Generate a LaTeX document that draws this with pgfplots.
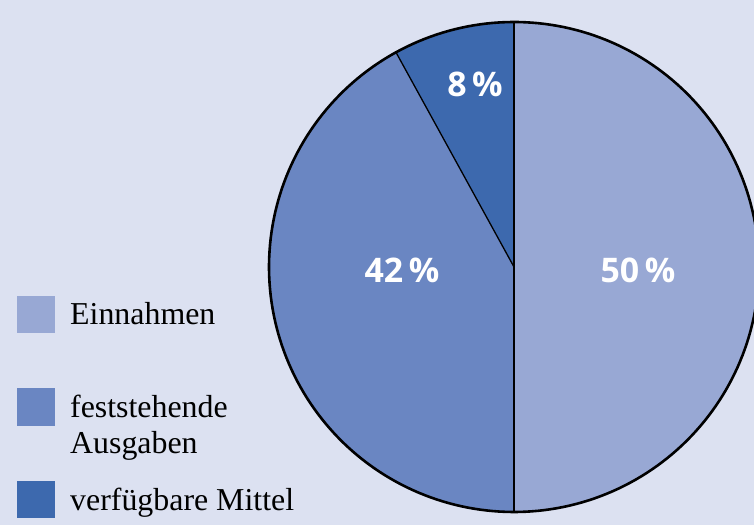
\documentclass[border=0pt]{standalone}
\usepackage{fontspec}
\setmainfont{Liberation Serif}
\newfontfamily\lblfont{Open Sans}
\usepackage{pgfplots}
\usepackage{pgfplotstable}
\pgfplotsset{compat=1.18}
\definecolor{bgc}{RGB}{220,225,241}
\definecolor{cA}{RGB}{152,168,212}
\definecolor{cB}{RGB}{106,134,194}
\definecolor{cC}{RGB}{61,105,174}
\pgfplotstableread{
label value
Einnahmen 50
feststehende 42
verfuegbar 8
}\datatable
\pgfplotstablegetelem{0}{value}\of\datatable \let\vA\pgfplotsretval
\pgfplotstablegetelem{1}{value}\of\datatable \let\vB\pgfplotsretval
\pgfplotstablegetelem{2}{value}\of\datatable \let\vC\pgfplotsretval
\pgfmathsetmacro{\aStart}{90-3.6*\vA}
\pgfmathsetmacro{\aEnd}{90}
\pgfmathsetmacro{\cEnd}{90+3.6*\vC}
\pgfmathsetmacro{\bEnd}{\cEnd+3.6*\vB}
\def\R{245}
\begin{document}
\begin{tikzpicture}
\begin{axis}[
  width=754bp, height=525bp, scale only axis,
  xmin=-514, xmax=240, ymin=-258, ymax=267,
  axis line style={draw=none}, ticks=none,
  axis background/.style={fill=bgc},
  clip=true,
]
% slices
\addplot[fill=cA, draw=none, domain=\aStart:\aEnd, samples=120, variable=\t] ({\R*cos(\t)},{\R*sin(\t)}) -- (0,0) -- cycle;
\addplot[fill=cC, draw=none, domain=\aEnd:\cEnd, samples=30, variable=\t] ({\R*cos(\t)},{\R*sin(\t)}) -- (0,0) -- cycle;
\addplot[fill=cB, draw=none, domain=\cEnd:\bEnd, samples=120, variable=\t] ({\R*cos(\t)},{\R*sin(\t)}) -- (0,0) -- cycle;
% radial lines
\addplot[black, line width=1.3bp] coordinates {(0,\R) (0,0) (0,-\R)};
\addplot[black, line width=1.3bp, domain=0:\R, samples=2] ({x*cos(\cEnd)},{x*sin(\cEnd)});
% outline
\addplot[black, line width=2.6bp, domain=0:360, samples=240, variable=\t] ({\R*cos(\t)},{\R*sin(\t)});
% slice labels
\node[anchor=base, text=white, font=\lblfont\bfseries\fontsize{34}{40}\selectfont] at (124,-16) {50\,\%};
\node[anchor=base, text=white, font=\lblfont\bfseries\fontsize{34}{40}\selectfont] at (-112,-16) {42\,\%};
\node[anchor=base, text=white, font=\lblfont\bfseries\fontsize{34}{40}\selectfont] at (-39,170) {8\,\%};
% legend
\fill[cA] (-497,-66) rectangle (-459,-29);
\fill[cB] (-497,-159) rectangle (-459,-121);
\fill[cC] (-497,-251) rectangle (-459,-214);
\node[anchor=base west, inner sep=0pt, font=\fontsize{32}{38}\selectfont] at (-444,-58) {Einnahmen};
\node[anchor=base west, inner sep=0pt, font=\fontsize{32}{38}\selectfont] at (-444,-151) {feststehende};
\node[anchor=base west, inner sep=0pt, font=\fontsize{32}{38}\selectfont] at (-444,-187) {Ausgaben};
\node[anchor=base west, inner sep=0pt, font=\fontsize{32}{38}\selectfont] at (-444,-243) {verfügbare Mittel};
\end{axis}
\end{tikzpicture}
\end{document}
